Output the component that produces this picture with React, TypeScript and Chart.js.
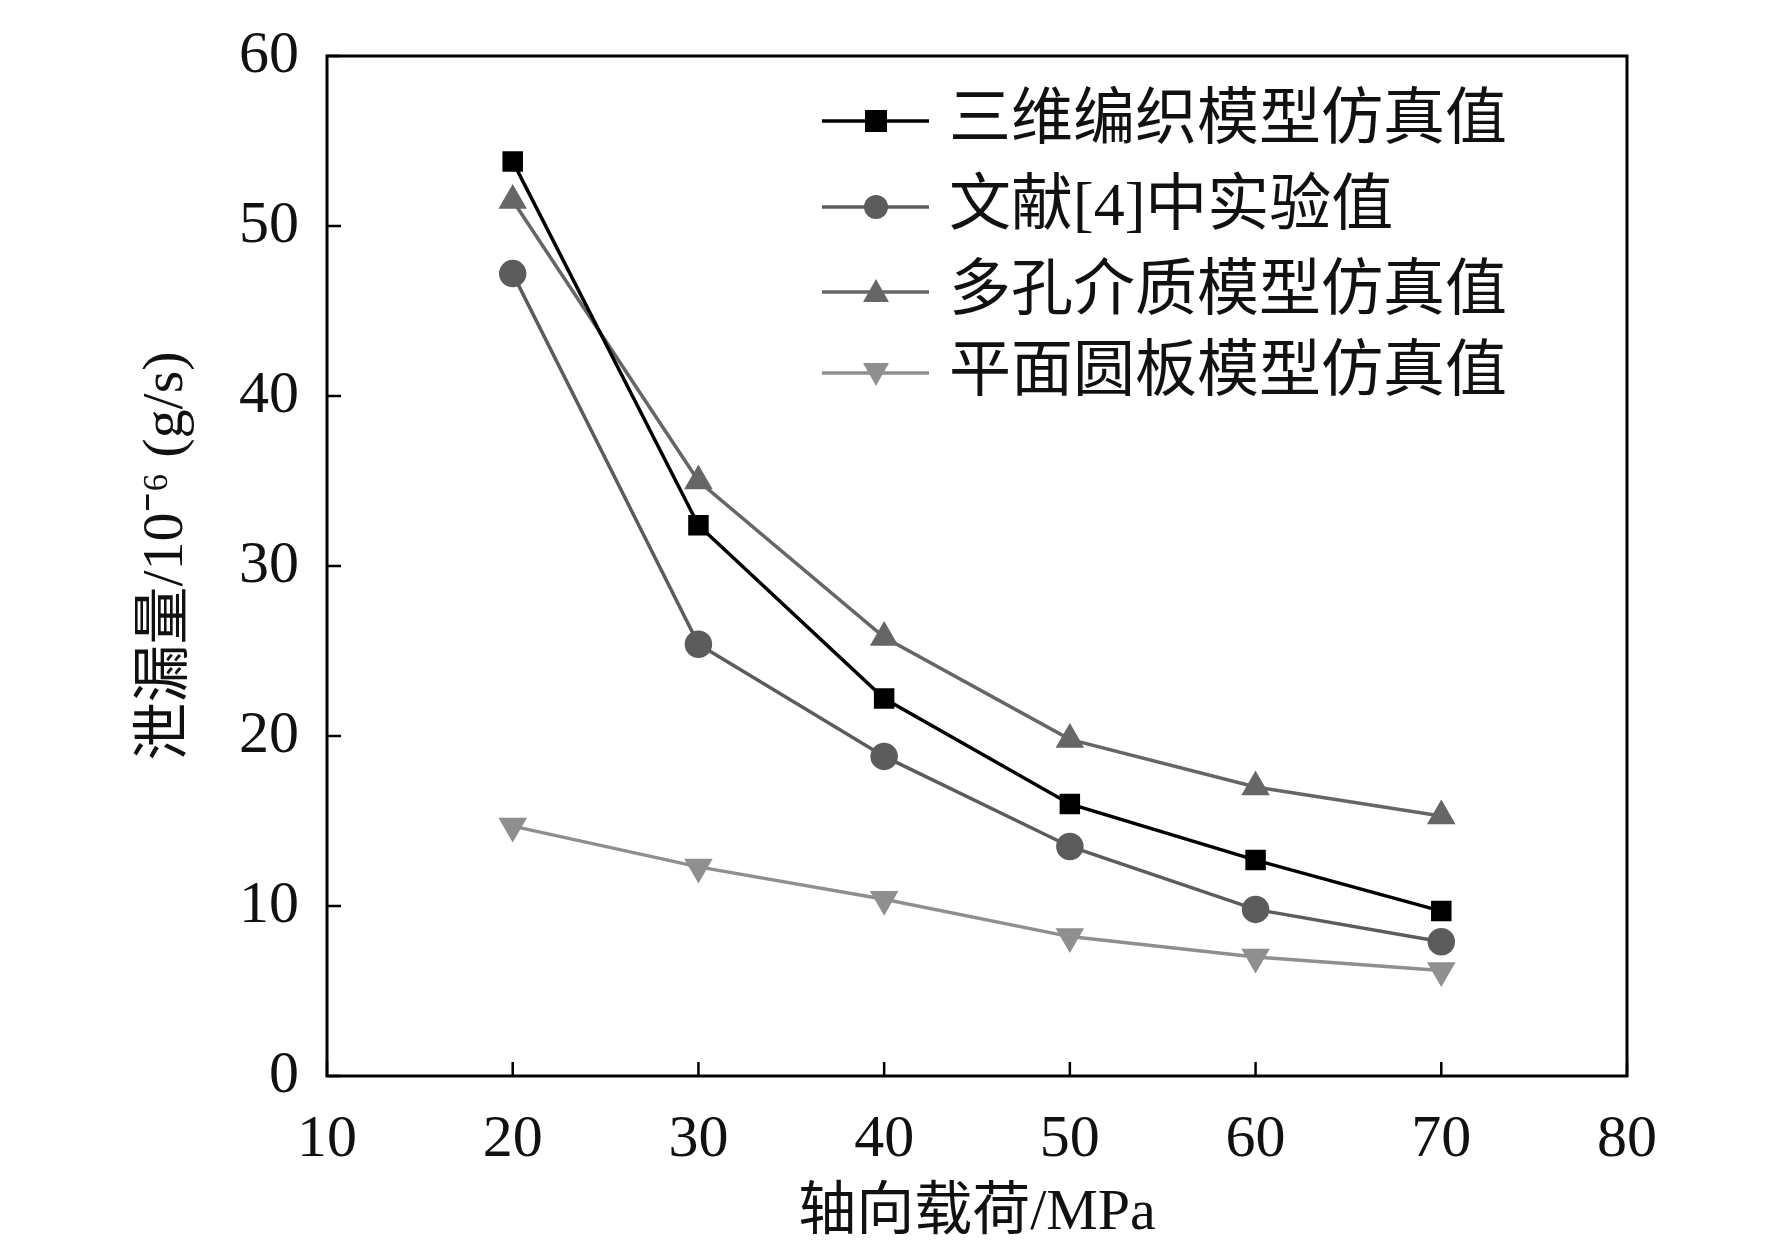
import React, { useEffect, useRef } from "react";
import { Chart, registerables } from "chart.js";
Chart.register(...registerables);

const xValues = [20, 30, 40, 50, 60, 70];
const braided = [53.8, 32.4, 22.2, 16.0, 12.7, 9.7];
const experiment = [47.2, 25.4, 18.8, 13.5, 9.8, 7.9];
const porous = [51.5, 35.0, 25.8, 19.8, 17.0, 15.3];
const plate = [14.7, 12.3, 10.4, 8.2, 7.0, 6.2];
const names = ["三维编织模型仿真值", "文献[4]中实验值", "多孔介质模型仿真值", "平面圆板模型仿真值"];
const xTicks = [10, 20, 30, 40, 50, 60, 70, 80];
const yTicks = [0, 10, 20, 30, 40, 50, 60];

const FONT = '"Liberation Serif", "Noto Sans CJK SC", serif';

export default function App() {
  const ref = useRef<HTMLCanvasElement>(null);
  useEffect(() => {
    document.body.style.margin = "0";
    const styles = [
      { c: "#000000", p: "rect", r: 12 },
      { c: "#5c5c5c", p: "circle", r: 12 },
      { c: "#666666", p: "triangle", r: 13 },
      { c: "#8f8f8f", p: "triangle", r: 13, rot: 180 },
    ];
    const all = [braided, experiment, porous, plate];
    const deco = {
      id: "deco",
      afterDraw(chart: any) {
        const { ctx, chartArea: a, scales } = chart;
        ctx.save();
        ctx.strokeStyle = "#000";
        ctx.lineWidth = 3;
        ctx.strokeRect(a.left, a.top, a.right - a.left, a.bottom - a.top);
        ctx.lineWidth = 2.5;
        xTicks.forEach((t) => {
          const x = scales.x.getPixelForValue(t);
          ctx.beginPath(); ctx.moveTo(x, a.bottom); ctx.lineTo(x, a.bottom - 14); ctx.stroke();
        });
        yTicks.forEach((t) => {
          const y = scales.y.getPixelForValue(t);
          ctx.beginPath(); ctx.moveTo(a.left, y); ctx.lineTo(a.left + 14, y); ctx.stroke();
        });
        ctx.fillStyle = "#111";
        ctx.font = `58px ${FONT}`;
        ctx.textAlign = "center";
        ctx.textBaseline = "middle";
        ctx.fillText("轴向载荷/MPa", (a.left + a.right) / 2, 1214);
        ctx.save();
        ctx.translate(167, (a.top + a.bottom) / 2 - 10);
        ctx.rotate(-Math.PI / 2);
        ctx.fillText("泄漏量/10⁻⁶ (g/s)", 0, 0);
        ctx.restore();
        const rows = [121, 207, 292, 373];
        ctx.font = `62px ${FONT}`;
        ctx.textAlign = "left";
        rows.forEach((y, i) => {
          const s = styles[i];
          ctx.strokeStyle = s.c; ctx.lineWidth = 3.5;
          ctx.beginPath(); ctx.moveTo(822, y); ctx.lineTo(929, y); ctx.stroke();
          ctx.fillStyle = s.c;
          const cx = 876;
          if (s.p === "rect") ctx.fillRect(cx - 11, y - 11, 22, 22);
          else if (s.p === "circle") { ctx.beginPath(); ctx.arc(cx, y, 12, 0, Math.PI * 2); ctx.fill(); }
          else {
            const d = s.rot ? -1 : 1;
            ctx.beginPath(); ctx.moveTo(cx, y - 13 * d); ctx.lineTo(cx + 13, y + 10 * d); ctx.lineTo(cx - 13, y + 10 * d); ctx.closePath(); ctx.fill();
          }
          ctx.fillStyle = "#111";
          ctx.fillText(names[i], 949, y + 2);
        });
        ctx.restore();
      },
    };
    const chart = new Chart(ref.current!, {
      type: "line",
      data: {
        datasets: all.map((d, i) => ({
          label: names[i],
          data: xValues.map((x, j) => ({ x, y: d[j] })),
          borderColor: styles[i].c,
          backgroundColor: styles[i].c,
          borderWidth: 3.5,
          pointStyle: styles[i].p as any,
          pointRadius: styles[i].r,
          pointRotation: (styles[i] as any).rot || 0,
          tension: 0,
        })),
      },
      options: {
        animation: false,
        responsive: false,
        layout: { padding: { top: 10, right: 145, left: 0, bottom: 0 } },
        plugins: { legend: { display: false }, tooltip: { enabled: false } },
        scales: {
          x: {
            type: "linear", min: 10, max: 80,
            afterBuildTicks: (s: any) => { s.ticks = xTicks.map((v) => ({ value: v })); },
            afterFit: (s: any) => { s.height = 182; },
            grid: { display: false },
            border: { display: false },
            ticks: { font: { family: FONT, size: 60 }, color: "#111", padding: 20 },
          },
          y: {
            min: 0, max: 60,
            afterBuildTicks: (s: any) => { s.ticks = yTicks.map((v) => ({ value: v })); },
            afterFit: (s: any) => { s.width = 327; },
            grid: { display: false },
            border: { display: false },
            ticks: { font: { family: FONT, size: 60 }, color: "#111", padding: 20 },
          },
        },
      },
      plugins: [deco],
    });
    return () => chart.destroy();
  }, []);
  return <canvas ref={ref} width={1772} height={1258} style={{ display: "block" }} />;
}
